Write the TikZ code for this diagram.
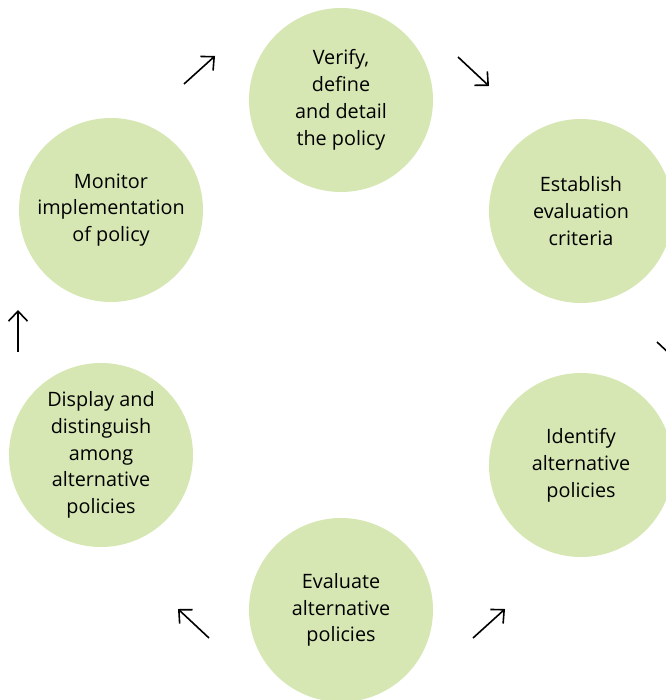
\documentclass[tikz,border=0pt]{standalone}
\usepackage{fontspec}
\setmainfont{Open Sans}
\usetikzlibrary{arrows.meta}
\definecolor{circfill}{HTML}{D6E7B4}
\tikzset{
  stage/.style={circle, fill=circfill, minimum size=184pt, inner sep=0pt, align=center,
    font=\fontsize{19.8}{26.8}\selectfont, text=black},
  flow/.style={-{Straight Barb[length=10pt,width=19pt]}, line width=1.6pt, black}
}
\begin{document}
\begin{tikzpicture}[x=1pt,y=-1pt]
\useasboundingbox (0,0) rectangle (665,700);
\node[stage] (verify) at (341,100) {Verify,\\define\\and detail\\the policy};
\node[stage] (criteria) at (581,211) {Establish\\evaluation\\criteria};
\node[stage] (identify) at (581,465) {Identify\\alternative\\policies};
\node[stage] (evaluate) at (341,610) {Evaluate\\alternative\\policies};
\node[stage] (display) at (101,455) {Display and\\distinguish\\among\\alternative\\policies};
\node[stage] (monitor) at (111,210) {Monitor\\implementation\\of policy};
\coordinate (a1s) at (184,84); \coordinate (a1e) at (215,56);
\coordinate (a2s) at (458,57); \coordinate (a2e) at (489,86);
\coordinate (a3s) at (657,342); \coordinate (a3e) at (689,372);
\coordinate (a4s) at (473,638); \coordinate (a4e) at (505,609);
\coordinate (a5s) at (209,638); \coordinate (a5e) at (178,609);
\coordinate (a6s) at (18,352); \coordinate (a6e) at (18,310);
\draw[flow] (a1s) -- (a1e);
\draw[flow] (a2s) -- (a2e);
\draw[flow] (a3s) -- (a3e);
\draw[flow] (a4s) -- (a4e);
\draw[flow] (a5s) -- (a5e);
\draw[flow] (a6s) -- (a6e);
\end{tikzpicture}
\end{document}
